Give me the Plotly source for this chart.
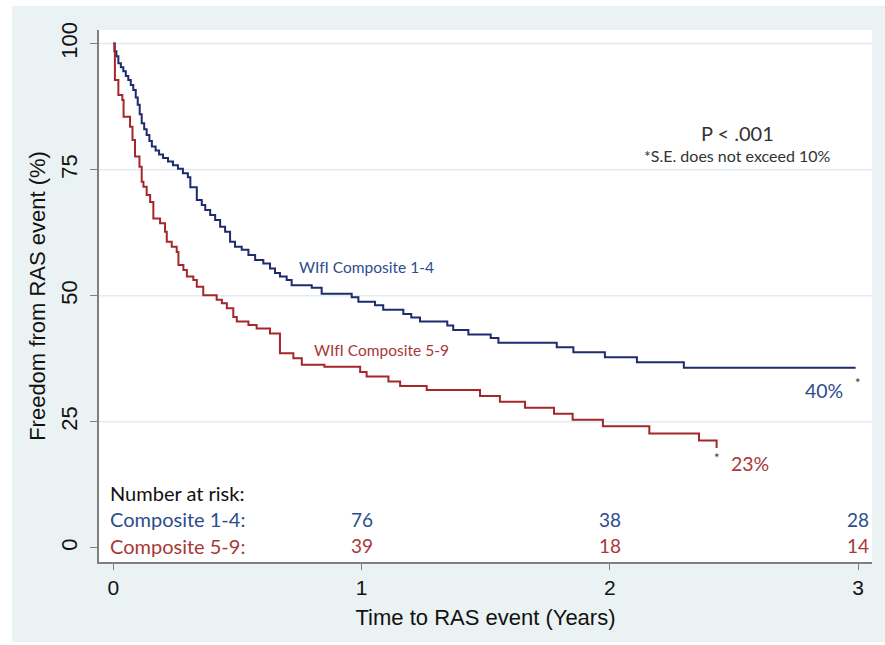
import plotly.graph_objects as go

# ---- data ----
blue_t = [0, 0.004, 0.012, 0.02, 0.03, 0.04, 0.05, 0.06, 0.07, 0.08, 0.09, 0.098, 0.106, 0.114, 0.124,
          0.134, 0.145, 0.155, 0.17, 0.184, 0.20, 0.22, 0.24, 0.26, 0.28, 0.30, 0.31, 0.336, 0.356, 0.370,
          0.390, 0.410, 0.430, 0.450, 0.470, 0.490, 0.517, 0.544, 0.571, 0.604, 0.631, 0.651, 0.671, 0.698,
          0.718, 0.799, 0.839, 0.960, 0.987, 1.054, 1.087, 1.168, 1.20, 1.235, 1.345, 1.369, 1.430, 1.52,
          1.551, 1.786, 1.853, 1.980, 2.109, 2.298, 2.99]
blue_s = [100, 98.5, 97.5, 96.1, 95.3, 94.5, 93.6, 92.8, 91.8, 90.8, 89.3, 87.9, 86.0, 84.2, 83.0,
          81.9, 80.7, 79.6, 78.8, 78.0, 77.3, 76.6, 75.9, 75.2, 74.3, 73.5, 71.5, 69.0, 68.0, 67.0,
          66.0, 65.0, 63.7, 62.7, 60.7, 59.7, 59.1, 58.1, 57.1, 56.4, 55.4, 54.5, 53.8, 53.1,
          52.1, 51.6, 50.4, 49.7, 48.8, 48.1, 47.2, 46.4, 45.7, 44.9, 44.1, 43.2, 42.3, 41.6,
          40.7, 39.8, 38.8, 37.8, 36.8, 35.7, 35.7]

red_t = [0, 0.006, 0.02, 0.036, 0.041, 0.067, 0.077, 0.087, 0.105, 0.114, 0.121, 0.134, 0.148, 0.161,
         0.188, 0.208, 0.215, 0.235, 0.255, 0.262, 0.282, 0.296, 0.322, 0.336, 0.362, 0.416, 0.437,
         0.457, 0.483, 0.497, 0.544, 0.577, 0.631, 0.671, 0.725, 0.759, 0.85, 0.994, 1.02, 1.108,
         1.155, 1.262, 1.477, 1.557, 1.658, 1.775, 1.850, 1.972, 2.159, 2.359, 2.430]
red_s = [100, 92.8, 89.8, 88.8, 85.5, 83.5, 80.9, 77.6, 75.6, 72.6, 71.6, 70.0, 68.6, 65.3,
         64.4, 62.7, 60.7, 59.7, 58.7, 56.1, 55.1, 53.8, 53.1, 51.8, 50.1, 49.2, 48.5,
         47.5, 45.8, 44.9, 44.2, 43.5, 42.5, 38.6, 37.6, 36.3, 35.9, 34.9, 34.0, 33.0,
         32.1, 31.3, 30.1, 29.0, 27.8, 26.6, 25.4, 24.1, 22.7, 21.3, 19.8]

risk_times = [1, 2, 3]
risk_blue = [76, 38, 28]
risk_red = [39, 18, 14]

x_ticks = [0, 1, 2, 3]
y_ticks = [0, 25, 50, 75, 100]
grid_levels = [25, 50, 75, 100]

# ---- styles ----
BG = "#EAF2F3"
LINE_BLUE = "#1E2B6C"
LINE_RED = "#A3272B"
TXT_BLUE = "#2E4C8C"
TXT_RED = "#A83838"
AX = "#7F7F7F"
TFONT = "Lato"
AFONT = "Liberation Sans"

fig = go.Figure()
fig.add_trace(go.Scatter(x=blue_t, y=blue_s, mode="lines", line=dict(shape="hv", color=LINE_BLUE, width=2),
                         hoverinfo="skip", showlegend=False))
fig.add_trace(go.Scatter(x=red_t, y=red_s, mode="lines", line=dict(shape="hv", color=LINE_RED, width=2),
                         hoverinfo="skip", showlegend=False))

shapes = []
for g in grid_levels:
    shapes.append(dict(type="line", xref="paper", yref="y", x0=0, x1=1, y0=g, y1=g,
                       line=dict(color="#E0EBF2", width=1.5), layer="below"))
# white outer border strips (in margins)
shapes.append(dict(type="rect", xref="paper", yref="paper", x0=-0.14, x1=-0.1125, y0=-0.2, y1=1.2,
                   fillcolor="white", line=dict(width=0), layer="below"))
shapes.append(dict(type="rect", xref="paper", yref="paper", x0=-0.2, x1=1.1, y0=1.045, y1=1.2,
                   fillcolor="white", line=dict(width=0), layer="below"))
shapes.append(dict(type="rect", xref="paper", yref="paper", x0=-0.2, x1=1.1, y0=-0.2, y1=-0.1505,
                   fillcolor="white", line=dict(width=0), layer="below"))

ann = []
def A(text, x, y, color, size, xanchor="center", font=TFONT):
    ann.append(dict(text=text, x=x, y=y, xref="x", yref="y", showarrow=False, xanchor=xanchor,
                    yanchor="middle", font=dict(family=font, size=size, color=color)))

A("P < .001", 2.516, 82.3, "#333333", 20)
A("*S.E. does not exceed 10%", 2.516, 77.9, "#333333", 16)
A("WIfI Composite 1-4", 0.740, 55.7, TXT_BLUE, 15.5, "left")
A("WIfI Composite 5-9", 0.800, 39.2, TXT_RED, 15.5, "left")
A("40%", 2.864, 31.3, TXT_BLUE, 19.5)
A("*", 2.999, 32.6, "#333333", 13)
A("23%", 2.566, 16.8, TXT_RED, 19.5)
A("*", 2.431, 17.9, "#333333", 13)
A("Number at risk:", -0.021, 10.9, "#111111", 20, "left")
A("Composite 1-4:", -0.021, 5.7, TXT_BLUE, 20, "left")
A("Composite 5-9:", -0.021, 0.4, TXT_RED, 20, "left")
for t, nb, nr in zip(risk_times, risk_blue, risk_red):
    A(str(nb), t, 5.7, TXT_BLUE, 19)
    A(str(nr), t, 0.4, TXT_RED, 19)

fig.update_layout(
    width=885, height=645,
    margin=dict(l=99, r=13, t=30, b=83),
    paper_bgcolor=BG, plot_bgcolor="white",
    shapes=shapes, annotations=ann,
    xaxis=dict(range=[-0.058, 3.056], tickvals=x_ticks, ticks="outside", ticklen=6, tickcolor=AX,
               showline=True, linecolor=AX, linewidth=1.5, showgrid=False, zeroline=False,
               tickfont=dict(family=AFONT, size=21, color="#111111"),
               title=dict(text="Time to RAS event (Years)", font=dict(family=AFONT, size=22, color="#111111"),
                          standoff=12)),
    yaxis=dict(range=[-2.8, 102.7], tickvals=y_ticks, ticks="outside", ticklen=7, tickcolor=AX,
               showline=True, linecolor=AX, linewidth=1.5, showgrid=False, zeroline=False,
               tickangle=-90, ticklabelstandoff=4,
               tickfont=dict(family=AFONT, size=22, color="#111111"),
               title=dict(text="Freedom from RAS event (%)", font=dict(family=AFONT, size=22, color="#111111"),
                          standoff=6)),
)

fig.write_html("out.html", config={"displayModeBar": False},
               post_script="document.body.style.margin='0px';")
